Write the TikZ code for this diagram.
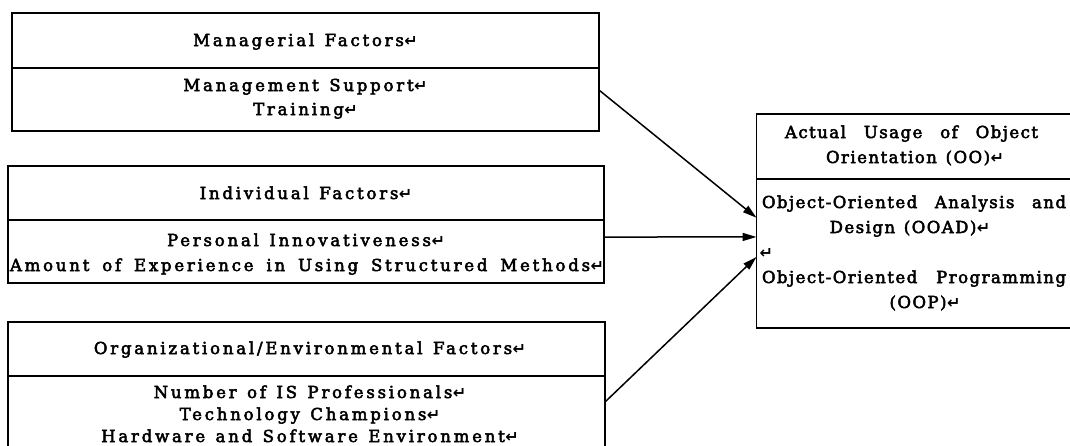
\documentclass[tikz,border=0pt]{standalone}
\usepackage{fontspec}
\setmainfont{DejaVu Serif}[LetterSpace=17,WordSpace=1.3,FakeBold=3]
\newfontfamily\rbfont{DejaVu Serif}[LetterSpace=9,WordSpace=1.3,FakeBold=3]
\newfontfamily\markfont{DejaVu Sans Bold}
\newcommand\rmk{{\markfont\fontsize{16}{16}\selectfont\kern0.5pt ↵}}
\usetikzlibrary{arrows.meta,calc}
\tikzset{
  sec/.style={draw, line width=1.6pt, inner sep=0pt, outer sep=0pt},
  txt/.style={inner sep=0pt, outer sep=0pt, anchor=base, font=\fontsize{16.5}{25}\selectfont},
  txtr/.style={txt, font=\rbfont\fontsize{16.5}{25}\selectfont},
  conn/.style={line width=1.5pt, -{Triangle[length=14pt,width=8pt]}},
}
\begin{document}
\begin{tikzpicture}[x=1pt,y=-1pt]
\path[use as bounding box] (0,0) rectangle (1070,445);
\clip (0,0) rectangle (1070,445);
% boxes
\node[sec, minimum width=587pt, minimum height=55pt] (mh) at (305.5,40.5) {};
\node[sec, minimum width=587pt, minimum height=63pt] (mb) at (305.5,99.5) {};
\node[sec, minimum width=596pt, minimum height=54pt] (ih) at (306,193) {};
\node[sec, minimum width=596pt, minimum height=63pt] (ib) at (306,251.5) {};
\node[sec, minimum width=597pt, minimum height=54pt] (oh) at (306.5,349) {};
\node[sec, minimum width=597pt, minimum height=100pt] (ob) at (306.5,426) {};
\node[sec, minimum width=334pt, minimum height=65pt] (ah) at (923.5,146.5) {};
\node[sec, minimum width=334pt, minimum height=149pt] (ab) at (923.5,253.5) {};
% texts
\node[txt] (mht) at (305.5,46) {Managerial Factors\rmk};
\node[txt] (mb1) at (305.5,91) {Management Support\rmk};
\node[txt] (mb2) at (305.5,115) {Training\rmk};
\node[txt] (iht) at (306,199) {Individual Factors\rmk};
\node[txt] (ib1) at (306,246) {Personal Innovativeness\rmk};
\node[txt, anchor=base west] (ib2) at (10,271) {\makebox[594pt][s]{Amount of Experience in Using Structured Methods\rmk}};
\node[txt] (oht) at (310,354) {Organizational/Environmental Factors\rmk};
\node[txt] (ob1) at (310,398) {Number of IS Professionals\rmk};
\node[txt] (ob2) at (310,420) {Technology Champions\rmk};
\node[txt] (ob3) at (310,442) {Hardware and Software Environment\rmk};
\node[txtr, anchor=base west] (ah1) at (785,138) {\makebox[253pt][s]{Actual Usage of Object}};
\node[txtr] (ah2) at (915,163) {Orientation (OO)\rmk};
\node[txtr, anchor=base west] (ab1) at (762,208) {\makebox[304pt][s]{Object-Oriented Analysis and}};
\node[txtr] (ab2) at (910,233) {Design (OOAD)\rmk};
\node[txtr, anchor=base west] (ab3) at (759,258) {\rmk};
\node[txtr, anchor=base west] (ab4) at (762,283) {\makebox[304pt][s]{Object-Oriented Programming}};
\node[txtr] (ab5) at (925,308) {(OOP)\rmk};
% connectors
\draw[conn] ($(mb.north east)!0.35!(mb.south east)$) -- ($(ab.north west)!0.26!(ab.south west)$);
\draw[conn] ($(ib.north east)!0.27!(ib.south east)$) -- ($(ab.north west)!0.389!(ab.south west)$);
\draw[conn] ($(ob.north east)!0.26!(ob.south east)$) -- ($(ab.north west)!0.523!(ab.south west)$);
\end{tikzpicture}
\end{document}
